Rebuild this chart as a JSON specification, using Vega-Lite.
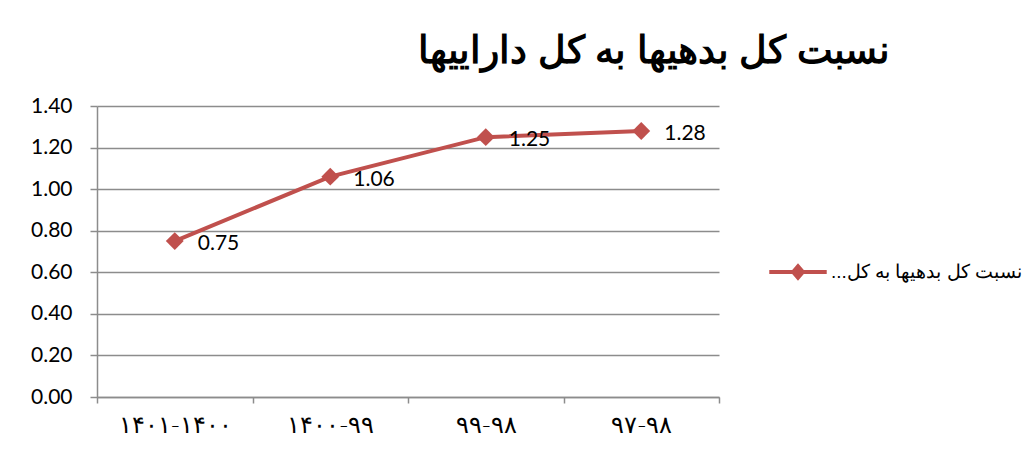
{
  "$schema": "https://vega.github.io/schema/vega-lite/v6.json",
  "autosize": "none",
  "width": 622,
  "height": 291,
  "padding": {"left": 97, "top": 106, "right": 313, "bottom": 64},
  "background": "white",
  "title": {
    "text": "نسبت کل بدهیها به کل داراییها",
    "anchor": "end",
    "frame": "group",
    "font": "Liberation Sans",
    "fontSize": 38,
    "fontWeight": "bold",
    "color": "black",
    "baseline": "alphabetic",
    "offset": -6,
    "dx": 171
  },
  "data": {
    "values": [
      {"period": "۱۴۰۱-۱۴۰۰", "value": 0.75, "series": "نسبت کل بدهیها به کل داراییها"},
      {"period": "۱۴۰۰-۹۹", "value": 1.06, "series": "نسبت کل بدهیها به کل داراییها"},
      {"period": "۹۹-۹۸", "value": 1.25, "series": "نسبت کل بدهیها به کل داراییها"},
      {"period": "۹۷-۹۸", "value": 1.28, "series": "نسبت کل بدهیها به کل داراییها"}
    ]
  },
  "encoding": {
    "x": {
      "field": "period",
      "type": "nominal",
      "sort": null,
      "bandPosition": 0.5,
      "scale": {"type": "band", "paddingInner": 0, "paddingOuter": 0},
      "axis": {
        "title": null,
        "labelAngle": 0,
        "tickBand": "extent",
        "domainColor": "#8c8c8c",
        "domainWidth": 1.5,
        "tickColor": "#8c8c8c",
        "tickWidth": 1.5,
        "tickSize": 6,
        "labelFont": "DejaVu Sans",
        "labelFontSize": 24,
        "labelFontWeight": 300,
        "labelColor": "black",
        "labelPadding": 10,
        "grid": false
      }
    },
    "y": {
      "field": "value",
      "type": "quantitative",
      "scale": {"domain": [0, 1.4], "nice": false},
      "axis": {
        "title": null,
        "values": [0, 0.2, 0.4, 0.6, 0.8, 1.0, 1.2, 1.4],
        "format": ".2f",
        "domainColor": "#8c8c8c",
        "domainWidth": 1.5,
        "tickColor": "#8c8c8c",
        "tickWidth": 1.5,
        "tickSize": 7,
        "labelFont": "Lato",
        "labelFontSize": 21,
        "labelColor": "black",
        "labelPadding": 18,
        "grid": true,
        "gridColor": "#8c8c8c",
        "gridWidth": 1.3
      }
    }
  },
  "layer": [
    {
      "mark": {"type": "line", "strokeWidth": 4, "point": {"shape": "diamond", "size": 320, "filled": true, "opacity": 1}},
      "encoding": {
        "color": {
          "field": "series",
          "type": "nominal",
          "scale": {"range": ["#C0504D"]},
          "legend": {
            "title": null,
            "orient": "none",
            "legendX": 670,
            "legendY": 135,
            "symbolType": "M-1,0L1,0M0,-0.2L0.17,0L0,0.2L-0.17,0Z",
            "symbolSize": 3300,
            "symbolStrokeWidth": 4,
            "symbolFillColor": "#C0504D",
            "symbolStrokeColor": "#C0504D",
            "labelFont": "Liberation Sans",
            "labelFontSize": 19,
            "labelColor": "black",
            "labelLimit": 400,
            "labelOffset": 2,
            "labelExpr": "'...' + slice(datum.label, 0, 20)"
          }
        }
      }
    },
    {
      "mark": {"type": "text", "align": "left", "baseline": "middle", "dx": 23, "dy": 3, "font": "Lato", "fontSize": 21, "color": "black"},
      "encoding": {
        "text": {"field": "value", "type": "quantitative", "format": ".2f"}
      }
    }
  ],
  "config": {"view": {"stroke": null}}
}
